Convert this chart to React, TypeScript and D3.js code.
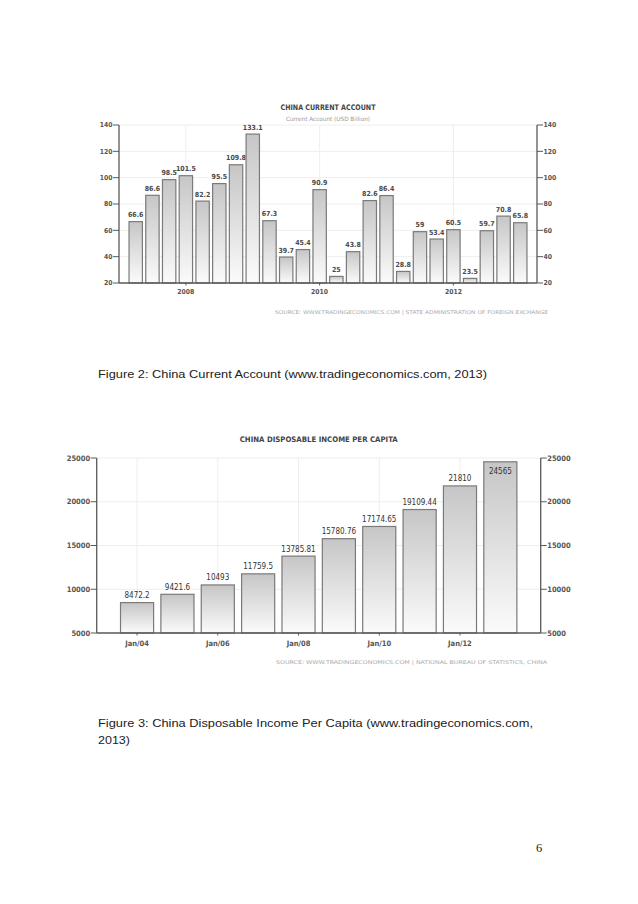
import React from "react";
import * as d3 from "d3";

// ---------- Data: China current account (USD bn), quarterly ----------
const caQuarters = [
  "2007Q1", "2007Q2", "2007Q3", "2007Q4",
  "2008Q1", "2008Q2", "2008Q3", "2008Q4",
  "2009Q1", "2009Q2", "2009Q3", "2009Q4",
  "2010Q1", "2010Q2", "2010Q3", "2010Q4",
  "2011Q1", "2011Q2", "2011Q3", "2011Q4",
  "2012Q1", "2012Q2", "2012Q3", "2012Q4",
];
const caValues = [
  66.6, 86.6, 98.5, 101.5, 82.2, 95.5, 109.8, 133.1,
  67.3, 39.7, 45.4, 90.9, 25, 43.8, 82.6, 86.4,
  28.8, 59, 53.4, 60.5, 23.5, 59.7, 70.8, 65.8,
];
const caValueLabels = [
  "66.6", "86.6", "98.5", "101.5", "82.2", "95.5", "109.8", "133.1",
  "67.3", "39.7", "45.4", "90.9", "25", "43.8", "82.6", "86.4",
  "28.8", "59", "53.4", "60.5", "23.5", "59.7", "70.8", "65.8",
];
const caXTickLabels = ["2008", "2010", "2012"];
const caXTickPeriods = ["2007Q4", "2009Q4", "2011Q4"];
const caYTicks = [20, 40, 60, 80, 100, 120, 140];

// ---------- Data: China disposable income per capita, annual ----------
const incYears = ["2004", "2005", "2006", "2007", "2008", "2009", "2010", "2011", "2012", "2013"];
const incValues = [8472.2, 9421.6, 10493, 11759.5, 13785.81, 15780.76, 17174.65, 19109.44, 21810, 24565];
const incValueLabels = ["8472.2", "9421.6", "10493", "11759.5", "13785.81", "15780.76", "17174.65", "19109.44", "21810", "24565"];
const incXTickLabels = ["Jan/04", "Jan/06", "Jan/08", "Jan/10", "Jan/12"];
const incXTickPeriods = ["2004", "2006", "2008", "2010", "2012"];
const incYTicks = [5000, 10000, 15000, 20000, 25000];

const FONT = "'DejaVu Sans Condensed', 'DejaVu Sans', sans-serif";

type ChartProps = {
  id: string;
  periods: string[];
  values: number[];
  valueLabels: string[];
  xTickLabels: string[];
  xTickPeriods: string[];
  yTicks: number[];
  yDomain: [number, number];
  left: number;
  right: number;
  top: number;
  bottom: number;
  barFrac: number;
  title: string;
  titleY: number;
  titleLen: number;
  subtitle?: string;
  subtitleY?: number;
  subtitleLen?: number;
  source: string;
  sourceX: number;
  sourceY: number;
  sourceLen: number;
  valueFont: number;
  valueWeight: string;
  valueFill: string;
  tickFont: number;
  xTickFont: number;
  xLabelY: number;
};

function BarChart(p: ChartProps) {
  const n = p.periods.length;
  const x = d3.scaleLinear().domain([-1, n]).range([p.left, p.right]);
  const y = d3.scaleLinear().domain(p.yDomain).range([p.bottom, p.top]);
  const step = x(1) - x(0);
  const bw = step * p.barFrac;
  const cx = (p.left + p.right) / 2;
  const gradId = `grad-${p.id}`;
  return (
    <g>
      <defs>
        <linearGradient id={gradId} x1="0" y1="0" x2="0" y2="1">
          <stop offset="0%" stopColor="#c6c6c6" />
          <stop offset="100%" stopColor="#fbfbfb" />
        </linearGradient>
      </defs>
      {/* grid */}
      {p.yTicks.map((t) => (
        <line key={`gy${t}`} x1={p.left} x2={p.right} y1={y(t)} y2={y(t)} stroke="#eeeeee" strokeWidth={1} />
      ))}
      {p.xTickPeriods.map((per) => {
        const xi = x(p.periods.indexOf(per));
        return <line key={`gx${per}`} x1={xi} x2={xi} y1={p.top} y2={p.bottom} stroke="#eeeeee" strokeWidth={1} />;
      })}
      {/* title */}
      <text x={cx} y={p.titleY} textAnchor="middle" fontFamily={FONT} fontWeight="bold" fontSize={7.6} fill="#444"
        textLength={p.titleLen} lengthAdjust="spacingAndGlyphs">{p.title}</text>
      {p.subtitle && (
        <text x={cx} y={p.subtitleY} textAnchor="middle" fontFamily={FONT} fontSize={5.8} fill="#999"
          textLength={p.subtitleLen} lengthAdjust="spacingAndGlyphs">{p.subtitle}</text>
      )}
      {/* bars */}
      {p.values.map((v, i) => {
        const top = y(Math.max(v, p.yDomain[0]));
        const xc = x(i);
        const inside = top - 4.5 < p.top;
        return (
          <g key={`b${i}`}>
            <rect x={xc - bw / 2} y={top} width={bw} height={p.bottom - top} fill={`url(#${gradId})`}
              stroke="#7a7a7a" strokeWidth={1.2} />
            <text x={xc} y={inside ? top + 12 : top - 4.5} textAnchor="middle" fontFamily={FONT}
              fontWeight={p.valueWeight} fontSize={p.valueFont} fill={p.valueFill}>{p.valueLabels[i]}</text>
          </g>
        );
      })}
      {/* axes */}
      <line x1={p.left} x2={p.left} y1={p.top} y2={p.bottom} stroke="#5a5a5a" strokeWidth={1.3} />
      <line x1={p.right} x2={p.right} y1={p.top} y2={p.bottom} stroke="#5a5a5a" strokeWidth={1.3} />
      <line x1={p.left} x2={p.right} y1={p.bottom} y2={p.bottom} stroke="#5a5a5a" strokeWidth={1.3} />
      {p.yTicks.map((t) => (
        <g key={`ty${t}`}>
          <line x1={p.left - 6} x2={p.left} y1={y(t)} y2={y(t)} stroke="#5a5a5a" strokeWidth={1} />
          <line x1={p.right} x2={p.right + 6} y1={y(t)} y2={y(t)} stroke="#5a5a5a" strokeWidth={1} />
          <text x={p.left - 6.5} y={y(t)} dy="0.35em" textAnchor="end" fontFamily={FONT} fontWeight="bold"
            fontSize={p.tickFont} fill="#555">{t}</text>
          <text x={p.right + 6.5} y={y(t)} dy="0.35em" textAnchor="start" fontFamily={FONT} fontWeight="bold"
            fontSize={p.tickFont} fill="#555">{t}</text>
        </g>
      ))}
      {p.xTickPeriods.map((per, k) => {
        const xi = x(p.periods.indexOf(per));
        return (
          <g key={`tx${per}`}>
            <line x1={xi} x2={xi} y1={p.bottom} y2={p.bottom + 2.5} stroke="#5a5a5a" strokeWidth={1} />
            <text x={xi} y={p.xLabelY} dy="0.35em" textAnchor="middle" fontFamily={FONT} fontWeight="bold"
              fontSize={p.xTickFont} fill="#555">{p.xTickLabels[k]}</text>
          </g>
        );
      })}
      {/* source */}
      <text x={p.sourceX} y={p.sourceY} dy="0.35em" fontFamily={FONT} fontSize={5.2} fill="#aaa"
        textLength={p.sourceLen} lengthAdjust="spacingAndGlyphs">{p.source}</text>
    </g>
  );
}

export default function App() {
  return (
    <svg width={638} height={904} viewBox="0 0 638 904"
      style={{ position: "absolute", left: 0, top: 0, background: "#fff" }}>
      <rect x={0} y={0} width={638} height={904} fill="#fff" />
      <BarChart
        id="ca"
        periods={caQuarters}
        values={caValues}
        valueLabels={caValueLabels}
        xTickLabels={caXTickLabels}
        xTickPeriods={caXTickPeriods}
        yTicks={caYTicks}
        yDomain={[20, 140]}
        left={119}
        right={537}
        top={125}
        bottom={283}
        barFrac={0.8}
        title="CHINA CURRENT ACCOUNT"
        titleY={110}
        titleLen={95}
        subtitle="Current Account (USD Billion)"
        subtitleY={121}
        subtitleLen={84}
        source="SOURCE:  WWW.TRADINGECONOMICS.COM  |  STATE  ADMINISTRATION  OF  FOREIGN  EXCHANGE"
        sourceX={275}
        sourceY={312}
        sourceLen={273}
        valueFont={7}
        valueWeight="bold"
        valueFill="#4a4a4a"
        tickFont={6.8}
        xTickFont={6.8}
        xLabelY={292}
      />
      <BarChart
        id="inc"
        periods={incYears}
        values={incValues}
        valueLabels={incValueLabels}
        xTickLabels={incXTickLabels}
        xTickPeriods={incXTickPeriods}
        yTicks={incYTicks}
        yDomain={[5000, 25000]}
        left={96.7}
        right={540.7}
        top={458}
        bottom={633}
        barFrac={0.82}
        title="CHINA DISPOSABLE INCOME PER CAPITA"
        titleY={442}
        titleLen={158}
        source="SOURCE:  WWW.TRADINGECONOMICS.COM  |  NATIONAL  BUREAU  OF  STATISTICS,  CHINA"
        sourceX={276}
        sourceY={662}
        sourceLen={271}
        valueFont={8}
        valueWeight="normal"
        valueFill="#333"
        tickFont={7.5}
        xTickFont={7.5}
        xLabelY={643}
      />
      <text x={98} y={378} fontFamily="'Liberation Sans', Arial, sans-serif" fontSize={11.5} fill="#222"
        textLength={389} lengthAdjust="spacingAndGlyphs">
        Figure 2: China Current Account (www.tradingeconomics.com,  2013)
      </text>
      <text x={98} y={727} fontFamily="'Liberation Sans', Arial, sans-serif" fontSize={11.5} fill="#222"
        textLength={435} lengthAdjust="spacingAndGlyphs">
        Figure 3: China Disposable Income Per Capita (www.tradingeconomics.com,
      </text>
      <text x={98} y={744} fontFamily="'Liberation Sans', Arial, sans-serif" fontSize={11.5} fill="#222"
        textLength={32} lengthAdjust="spacingAndGlyphs">
        2013)
      </text>
      <text x={539} y={852} textAnchor="middle" fontFamily="'Liberation Serif', 'Times New Roman', serif"
        fontSize={12.5} fill="#222">6</text>
    </svg>
  );
}
